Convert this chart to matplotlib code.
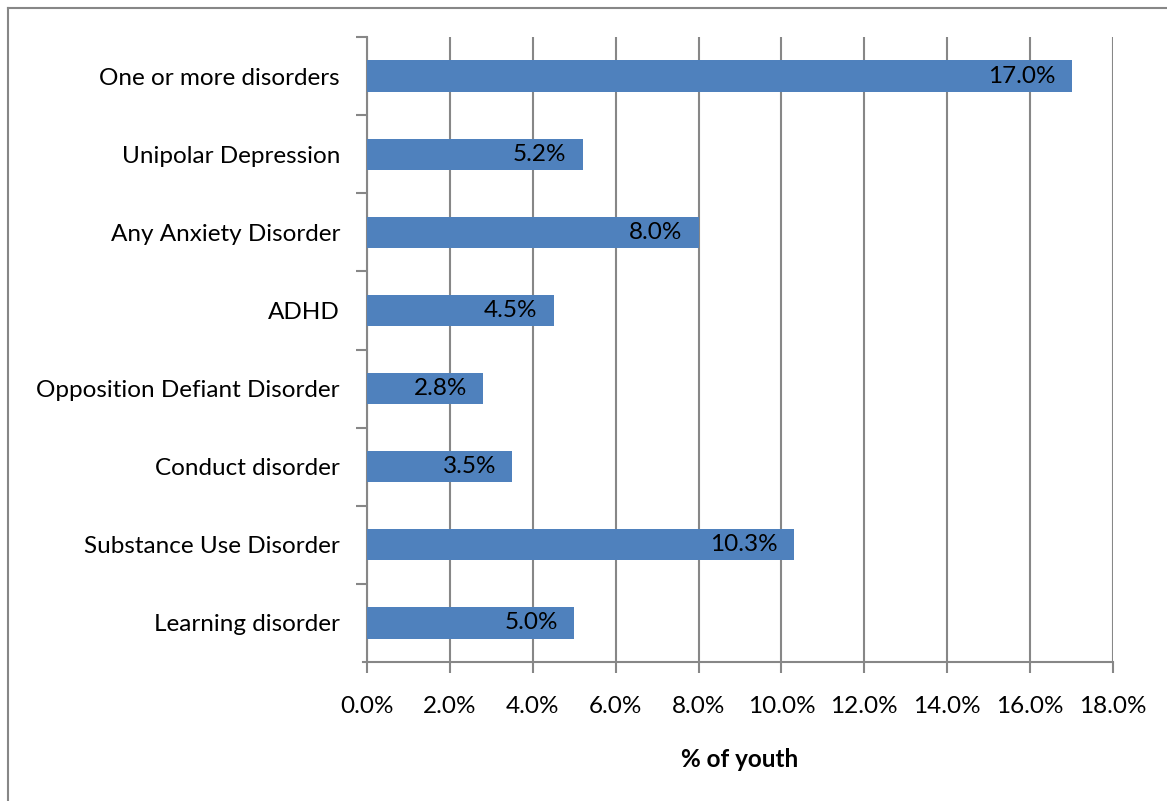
"""
Prevalence of disorders among youth - horizontal bar chart
"""

import matplotlib
matplotlib.use('Agg')
import matplotlib.pyplot as plt
from matplotlib.lines import Line2D
from matplotlib.ticker import FuncFormatter, MultipleLocator

categories = [
    "One or more disorders",
    "Unipolar Depression",
    "Any Anxiety Disorder",
    "ADHD",
    "Opposition Defiant Disorder",
    "Conduct disorder",
    "Substance Use Disorder",
    "Learning disorder",
]
values = [17.0, 5.2, 8.0, 4.5, 2.8, 3.5, 10.3, 5.0]

plt.rcParams['font.family'] = ['Lato', 'DejaVu Sans']

bar_color = '#4F81BD'
line_color = '#878787'
fs = 17.5

fig = plt.figure(figsize=(11.67, 8.01), dpi=100)
ax = fig.add_axes([367 / 1167, 1 - 662 / 801, (1113 - 367) / 1167, (662 - 37) / 801])

ypos = list(range(len(categories)))[::-1]
bars = ax.barh(ypos, values, height=0.4, color=bar_color, zorder=3)

ax.set_xlim(0, 18)
ax.set_ylim(-0.5, len(categories) - 0.5)
ax.xaxis.set_major_locator(MultipleLocator(2))
ax.xaxis.set_major_formatter(FuncFormatter(lambda v, _: f"{v:.1f}%"))
ax.grid(axis='x', color=line_color, linewidth=1.5, zorder=0)

# category labels between ticks like Excel
ax.set_yticks(ypos)
ax.set_yticklabels(categories, fontsize=fs)
ax.set_yticks([y + 0.5 for y in range(len(categories))], minor=True)
ax.tick_params(axis='y', which='major', length=0, pad=19.5)
ax.tick_params(axis='y', which='minor', length=8, width=1.5, color=line_color)
ax.tick_params(axis='x', length=8, width=1.5, color=line_color, labelsize=fs, pad=16.5)

for side in ['top', 'right']:
    ax.spines[side].set_visible(False)
for side in ['left', 'bottom']:
    ax.spines[side].set_color(line_color)
    ax.spines[side].set_linewidth(1.5)
ax.spines['bottom'].set_bounds(-0.1, 18)

ax.set_xlabel("% of youth", fontsize=fs, fontweight='bold', labelpad=22)

for bar, val in zip(bars, values):
    ax.annotate(f"{val:.1f}%", (bar.get_width(), bar.get_y() + bar.get_height() / 2),
                xytext=(-16, 0), textcoords='offset pixels',
                ha='right', va='center', fontsize=fs, zorder=4)

# chart area border (left and top visible)
fig.add_artist(Line2D([8 / 1167, 8 / 1167], [0, 1 - 8 / 801], color=line_color, linewidth=1.5))
fig.add_artist(Line2D([8 / 1167, 1], [1 - 8 / 801, 1 - 8 / 801], color=line_color, linewidth=1.5))

plt.savefig('out.png', dpi=100)
plt.close()
